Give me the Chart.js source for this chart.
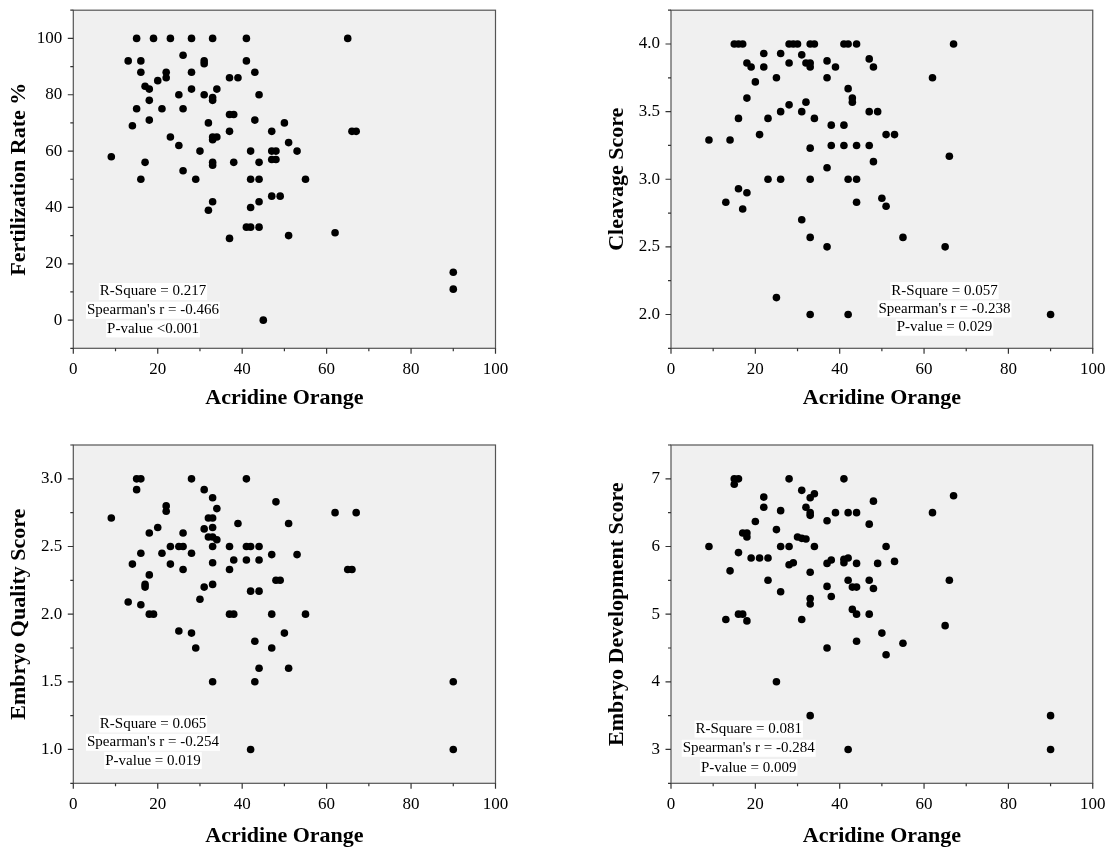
<!DOCTYPE html>
<html>
<head>
<meta charset="utf-8">
<script src="https://cdn.jsdelivr.net/npm/chart.js@4.4.0/dist/chart.umd.min.js"></script>
<style>
  html, body { margin: 0; padding: 0; background: #fff; overflow: hidden; }
  #page { position: relative; width: 1110px; height: 847px; overflow: hidden; }
  canvas { position: absolute; }
</style>
</head>
<body>
<div id="page">
  <canvas id="c1" width="555" height="434" style="left:0;top:-11px"></canvas>
  <canvas id="c2" width="562" height="434" style="left:555px;top:-11px"></canvas>
  <canvas id="c3" width="555" height="424" style="left:0;top:423px"></canvas>
  <canvas id="c4" width="562" height="424" style="left:555px;top:423px"></canvas>
</div>
<script>
// x axis (shared)
const xLabels = ['0', '20', '40', '60', '80', '100'];

// Fertilization rate vs acridine orange
const fertAO = [15,19,23,28,33,41,65, 26, 13,16,41,31,31, 16,28,43,22,22, 20, 37,39, 17,18, 28,34, 25,31,44, 33,33, 18,
  15,21,26, 37,38, 18,43, 32,50, 14, 37,47,66,67, 23,33,34,33, 51, 25, 30,42,47,48,53, 9, 47,48, 17,33,38,44,33, 26,
  16,29,42,44,55, 47,49, 33,44, 42, 32, 41,42,44, 51, 37, 45, 62, 90,90];
const fertRate = [100,100,100,100,100,100,100, 94, 92,92,92,92,91, 88,88,88,88,86, 85, 86,86, 83,82, 82,82, 80,80,80, 79,78, 78,
  75,75,75, 73,73, 71,71, 70,70, 69, 67,67,67,67, 65,65,65,64, 63, 62, 60,60,60,60,60, 58, 57,57, 56,56,56,56,55, 53,
  50,50,50,50,50, 44,44, 42,42, 40, 39, 33,33,33, 30, 29, 0, 31, 17,11];
const fertLabels = ['0', '20', '40', '60', '80', '100'];
const fertStats = ['R-Square = 0.217', "Spearman's r = -0.466", 'P-value <0.001'];

// Cleavage score
const cleavAO = [15,16,17,28,29,30,33,34,41,42,44,67, 22,26, 31, 18,28,32,33,33, 19,22,39,48, 37, 47, 25,37,62, 20, 42,
  18,43,43, 28,32, 26,31,47,49, 16,23,34, 38,41, 21,51,53, 9,14, 33, 38,41,44,47, 66, 48, 37, 23,26,33,42,44, 16, 18,
  13,44, 50, 51, 17, 31, 33,55, 37,65, 25, 33,42,90];
const cleavScore = [4,4,4,4,4,4,4,4,4,4,4,4, 3.93,3.93, 3.92, 3.86,3.86,3.86,3.86,3.83, 3.83,3.83,3.83,3.83, 3.875, 3.89,
  3.75,3.75,3.75, 3.72, 3.67, 3.6,3.6,3.57, 3.55,3.57, 3.5,3.5,3.5,3.5, 3.45,3.45,3.45, 3.4,3.4, 3.33,3.33,3.33, 3.29,3.29,
  3.23, 3.25,3.25,3.25,3.25, 3.17, 3.13, 3.085, 3,3,3,3,3, 2.93, 2.9, 2.83,2.83, 2.86, 2.8, 2.78, 2.7, 2.57,2.57, 2.5,2.5,
  2.125, 2,2,2];
const cleavLabels = ['2.0', '2.5', '3.0', '3.5', '4.0'];
const cleavStats = ['R-Square = 0.057', "Spearman's r = -0.238", 'P-value = 0.029'];

// Embryo quality score
const qualAO = [15,16,28,41, 15,31, 33, 48, 22,22, 34, 9,32,33, 39,51, 20,33, 31, 18,26, 32,33,34, 23,25,26,33,37,41,42,44,
  16,21,28, 47,53, 38,41,44, 33, 14,23, 26,37, 18, 48,49, 33,17,17, 31, 42,44, 30, 13, 16, 18,19,37,38,47,55, 25, 28,50,
  43, 29,47, 44,51, 33,43, 42, 62,67,65,66, 90,90];
const qualScore = [3,3,3,3, 2.92,2.92, 2.86, 2.83, 2.8,2.76, 2.78, 2.71,2.71,2.71, 2.67,2.67, 2.64,2.64, 2.63, 2.6,2.6,
  2.57,2.57,2.55, 2.5,2.5,2.5,2.5,2.5,2.5,2.5,2.5, 2.45,2.45,2.45, 2.44,2.44, 2.4,2.4,2.4, 2.38, 2.37,2.37, 2.33,2.33, 2.29,
  2.25,2.25, 2.22,2.22,2.2, 2.2, 2.17,2.17, 2.11, 2.09, 2.07, 2,2,2,2,2,2, 1.875, 1.86,1.86, 1.8, 1.75,1.75, 1.6,1.6,
  1.5,1.5, 1, 2.75,2.75,2.33,2.33, 1.5,1];
const qualLabels = ['1.0', '1.5', '2.0', '2.5', '3.0'];
const qualStats = ['R-Square = 0.065', "Spearman's r = -0.254", 'P-value = 0.019'];

// Embryo development score
const devAO = [15,16,15,28,41, 31, 34,33, 22, 48, 22,32, 26, 33,33, 39,42,44, 37, 20, 47, 25, 17,18,18, 30,31,32,
  9,26,28,34,51, 16, 19,21,23, 41,42,41, 53, 37,38,44,49, 28,29, 14, 33, 23,42,47, 37,43,44, 48, 26, 38, 33,33, 43,
  16,17,44,47, 13,18,31, 50, 44, 37, 51, 55, 25, 33, 42, 67,62,66,65,90,90];
const devScore = [7,7,6.92,7,7, 6.83, 6.78,6.72, 6.73, 6.67, 6.58,6.58, 6.53, 6.5,6.46, 6.5,6.5,6.5, 6.38, 6.37, 6.33, 6.25,
  6.2,6.2,6.14, 6.14,6.12,6.11, 6,6,6,6,6, 5.91, 5.83,5.83,5.83, 5.81,5.83,5.76, 5.78, 5.75,5.8,5.75,5.75, 5.73,5.76,
  5.64, 5.62, 5.5,5.5,5.5, 5.41,5.4,5.4, 5.38, 5.33, 5.26, 5.23,5.15, 5.07, 5,5,5,5, 4.92,4.9,4.92, 4.72, 4.6, 4.5,
  4.4, 4.57, 4, 3.5, 3, 6.75,6.5,5.5,4.83,3.5,3];
const devLabels = ['3', '4', '5', '6', '7'];
const devStats = ['R-Square = 0.081', "Spearman's r = -0.284", 'P-value = 0.009'];

const SERIF = "'Liberation Serif', 'Times New Roman', serif";

// grey plot box, frame and outward ticks (major = labelled)
const frame = {
  id: 'frame',
  beforeDraw(chart) {
    const { ctx, chartArea: a } = chart;
    ctx.save();
    ctx.fillStyle = '#f0f0f0';
    ctx.fillRect(a.left, a.top, a.right - a.left, a.bottom - a.top);
    ctx.restore();
  },
  afterDatasetsDraw(chart) {
    const { ctx, chartArea: a, scales } = chart;
    ctx.save();
    ctx.strokeStyle = '#555';
    ctx.lineWidth = 1.2;
    ctx.strokeRect(a.left, a.top, a.right - a.left, a.bottom - a.top);
    ctx.strokeStyle = '#333';
    ctx.beginPath();
    scales.x.ticks.forEach(t => {
      const px = scales.x.getPixelForValue(t.value);
      const len = t.label !== '' ? 5.5 : 3;
      ctx.moveTo(px, a.bottom);
      ctx.lineTo(px, a.bottom + len);
    });
    scales.y.ticks.forEach(t => {
      const py = scales.y.getPixelForValue(t.value);
      const len = t.label !== '' ? 5.5 : 3;
      ctx.moveTo(a.left, py);
      ctx.lineTo(a.left - len, py);
    });
    ctx.stroke();
    ctx.restore();
  }
};

// white-backed statistics text
const statBox = {
  id: 'statBox',
  afterDatasetsDraw(chart, args, o) {
    const { ctx, chartArea: a } = chart;
    ctx.save();
    ctx.font = '15px ' + SERIF;
    ctx.textAlign = 'center';
    ctx.textBaseline = 'middle';
    o.lines.forEach((s, i) => {
      const x = a.left + o.dx;
      const y = a.top + o.dy + i * o.gap;
      const w = ctx.measureText(s).width;
      ctx.fillStyle = '#fff';
      ctx.fillRect(x - w / 2 - 1, y - 8.5, w + 2, 17);
      ctx.fillStyle = '#000';
      ctx.fillText(s, x, y);
    });
    ctx.restore();
  }
};

function makePanel(id, xs, ys, yTitle, yRange, yLabels, fmt, box, note) {
  const ctx = document.getElementById(id).getContext('2d');
  return new Chart(ctx, {
    type: 'scatter',
    data: {
      datasets: [{
        data: xs.map((x, i) => ({ x: x, y: ys[i] })),
        backgroundColor: '#000',
        borderWidth: 0,
        pointRadius: 3.8,
        pointHoverRadius: 3.8
      }]
    },
    options: {
      responsive: false,
      animation: false,
      layout: { padding: { left: box.padL, top: box.padT, right: box.padR, bottom: 0 } },
      plugins: {
        legend: { display: false },
        tooltip: { enabled: false },
        statBox: note
      },
      scales: {
        x: {
          type: 'linear',
          min: 0,
          max: 100,
          grid: { display: false, drawTicks: false },
          border: { display: false },
          afterFit: s => { s.height = box.xH; },
          ticks: {
            stepSize: 10,
            autoSkip: false,
            maxRotation: 0,
            padding: 11.5,
            color: '#000',
            font: { family: SERIF, size: 17 },
            callback: v => xLabels.includes(String(v)) ? String(v) : ''
          },
          title: {
            display: true,
            text: 'Acridine Orange',
            color: '#000',
            font: { family: SERIF, size: 22, weight: 'bold', lineHeight: 1 },
            padding: { top: 0, bottom: box.xTitlePad }
          }
        },
        y: {
          type: 'linear',
          min: yRange[0],
          max: yRange[1],
          grid: { display: false, drawTicks: false },
          border: { display: false },
          afterFit: s => { s.width = box.yW; },
          ticks: {
            stepSize: yRange[2],
            autoSkip: false,
            padding: 11,
            color: '#000',
            font: { family: SERIF, size: 17 },
            callback: v => yLabels.includes(fmt(v)) ? fmt(v) : ''
          },
          title: {
            display: true,
            text: yTitle,
            color: '#000',
            font: { family: SERIF, size: 22, weight: 'bold', lineHeight: 1.2 },
            padding: { top: 6, bottom: 0 }
          }
        }
      }
    },
    plugins: [frame, statBox]
  });
}

const one = v => v.toFixed(1);
const whole = v => String(Math.round(v * 1000) / 1000);

makePanel('c1', fertAO, fertRate, 'Fertilization Rate %', [-10, 110, 10], fertLabels, whole,
  { padL: 0, padT: 0, padR: 59.5, yW: 73.3, xH: 74.7, xTitlePad: 14 },
  { lines: fertStats, dx: 79.7, dy: 281.3, gap: 18.7 });

makePanel('c2', cleavAO, cleavScore, 'Cleavage Score', [1.75, 4.25, 0.25], cleavLabels, one,
  { padL: 43, padT: 0, padR: 0, yW: 73, xH: 74.7, xTitlePad: 14 },
  { lines: cleavStats, dx: 273.5, dy: 280.4, gap: 18.3 });

makePanel('c3', qualAO, qualScore, 'Embryo Quality Score', [0.75, 3.25, 0.25], qualLabels, one,
  { padL: 0, padT: 22, padR: 59.5, yW: 73.3, xH: 63.7, xTitlePad: 0 },
  { lines: qualStats, dx: 79.7, dy: 279, gap: 18.3 });

makePanel('c4', devAO, devScore, 'Embryo Development Score', [2.5, 7.5, 0.5], devLabels, whole,
  { padL: 43, padT: 22, padR: 0, yW: 73, xH: 63.7, xTitlePad: 0 },
  { lines: devStats, dx: 77.7, dy: 284, gap: 19.3 });
</script>
</body>
</html>
